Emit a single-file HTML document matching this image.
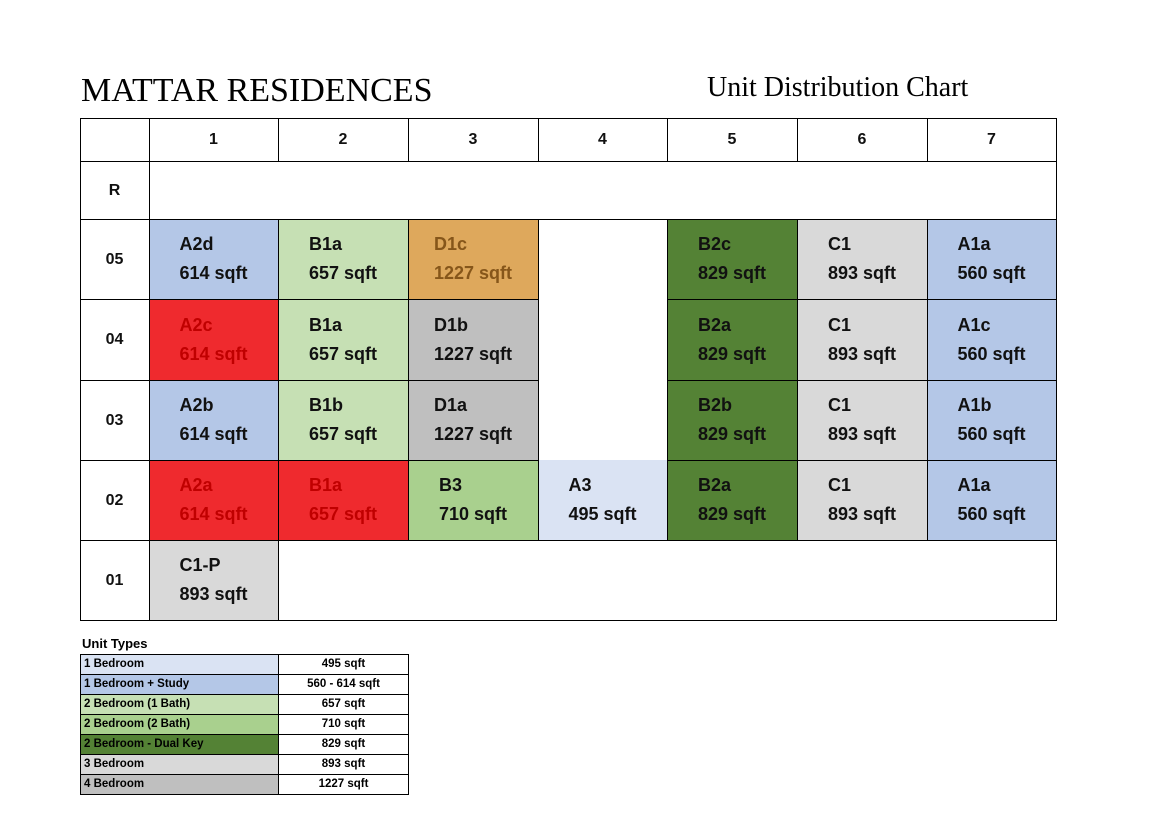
<!DOCTYPE html>
<html><head><meta charset="utf-8"><style>
body{margin:0;width:1154px;height:827px;background:#fff;position:relative;overflow:hidden;font-family:"Liberation Sans",sans-serif}
.t{position:absolute;font-family:"Liberation Serif",serif;color:#000}
.c{position:absolute;box-sizing:border-box;display:flex;flex-direction:column;align-items:center;justify-content:center;font-weight:bold;font-size:18px;line-height:29px;color:#111}
.ln{position:absolute;background:#000}
.lg{position:absolute;box-sizing:border-box;border:1px solid #000;font-size:11.5px;font-weight:bold;line-height:18px;height:21px}
</style></head><body>
<div class="t" style="left:81px;top:72px;font-size:34px">MATTAR RESIDENCES</div>
<div class="t" style="left:707px;top:72px;font-size:28px">Unit Distribution Chart</div>
<div id="grid"></div>
<div id="legend">
<div style="position:absolute;left:82px;top:636px;font-size:13px;font-weight:bold">Unit Types</div>
</div>
<script>
const colX=[80,149,278,408,538,667,797,927,1056];
const rowY=[118,161,219,299,380,460,540,620];
const colLabels=["1","2","3","4","5","6","7"];
const rowLabels=["R","05","04","03","02","01"];
const COL={lb:["#b4c7e7","#111"],lg:["#c6e0b4","#111"],or:["#dea85c","#86561a"],rd:["#ef2a2e","#c00000"],g1:["#d9d9d9","#111"],g2:["#bfbfbf","#111"],mg:["#a9d08e","#111"],dg:["#548235","#111"],vb:["#dae3f3","#111"]};
const units=[
[1,1,"A2d","614","lb"],[1,2,"B1a","657","lg"],[1,3,"D1c","1227","or"],[1,5,"B2c","829","dg"],[1,6,"C1","893","g1"],[1,7,"A1a","560","lb"],
[2,1,"A2c","614","rd"],[2,2,"B1a","657","lg"],[2,3,"D1b","1227","g2"],[2,5,"B2a","829","dg"],[2,6,"C1","893","g1"],[2,7,"A1c","560","lb"],
[3,1,"A2b","614","lb"],[3,2,"B1b","657","lg"],[3,3,"D1a","1227","g2"],[3,5,"B2b","829","dg"],[3,6,"C1","893","g1"],[3,7,"A1b","560","lb"],
[4,1,"A2a","614","rd"],[4,2,"B1a","657","rd"],[4,3,"B3","710","mg"],[4,4,"A3","495","vb"],[4,5,"B2a","829","dg"],[4,6,"C1","893","g1"],[4,7,"A1a","560","lb"],
[5,1,"C1-P","893","g1"]];
const legendNames=["1 Bedroom","1 Bedroom + Study","2 Bedroom (1 Bath)","2 Bedroom (2 Bath)","2 Bedroom - Dual Key","3 Bedroom","4 Bedroom"];
const legendSizes=["495 sqft","560 - 614 sqft","657 sqft","710 sqft","829 sqft","893 sqft","1227 sqft"];
const legendKeys=["vb","lb","lg","mg","dg","g1","g2"];
const g=document.getElementById('grid');
function cell(x,y,w,h,bg,fg,html){const d=document.createElement('div');d.className='c';d.style.cssText=`left:${x}px;top:${y}px;width:${w}px;height:${h}px;background:${bg};color:${fg}`;d.innerHTML=html;g.appendChild(d);return d;}
function line(x,y,w,h){const d=document.createElement('div');d.className='ln';d.style.cssText=`left:${x}px;top:${y}px;width:${w}px;height:${h}px`;


g.appendChild(d);}
units.forEach(u=>{const[r,c,n,s,k]=u;const x=colX[c],y=rowY[r+1];
const d=cell(x,y,colX[c+1]-x,rowY[r+2]-y,COL[k][0],COL[k][1],n+'<br>'+s+' sqft');

});
colLabels.forEach((l,i)=>{const d=cell(colX[i+1],rowY[0],colX[i+2]-colX[i+1],rowY[1]-rowY[0],'transparent','#111',l);d.style.fontSize='16px';

});
rowLabels.forEach((l,i)=>{const d=cell(colX[0],rowY[i+1],colX[1]-colX[0],rowY[i+2]-rowY[i+1],'transparent','#111',l);d.style.fontSize='16px';

});
// horizontal lines
line(colX[0],rowY[0],colX[8]-colX[0]+1,1);
line(colX[0],rowY[1],colX[8]-colX[0]+1,1);
line(colX[0],rowY[2],colX[8]-colX[0]+1,1);
for(let r=3;r<=6;r++){line(colX[0],rowY[r],colX[4]-colX[0]+1,1);line(colX[5],rowY[r],colX[8]-colX[5]+1,1);}
line(colX[3],rowY[6],colX[5]-colX[3],1);
line(colX[0],rowY[7],colX[8]-colX[0]+1,1);
// vertical lines
line(colX[0],rowY[0],1,rowY[7]-rowY[0]);line(colX[8],rowY[0],1,rowY[7]-rowY[0]+1);
line(colX[1],rowY[0],1,rowY[7]-rowY[0]);line(colX[2],rowY[0],1,rowY[1]-rowY[0]);
for(let c=2;c<=7;c++){line(colX[c],rowY[0],1,rowY[1]-rowY[0]);line(colX[c],rowY[2],1,rowY[6]-rowY[2]);}
line(colX[2],rowY[6],1,rowY[7]-rowY[6]);
const L=document.getElementById('legend');
legendNames.forEach((n,i)=>{const y=654+i*20;
const a=document.createElement('div');a.className='lg';a.style.cssText=`left:80px;top:${y}px;width:199px;background:${COL[legendKeys[i]][0]};padding-left:3px`;a.textContent=n;


L.appendChild(a);
const b=document.createElement('div');b.className='lg';b.style.cssText=`left:278px;top:${y}px;width:131px;text-align:center`;b.textContent=legendSizes[i];


L.appendChild(b);});
</script>
</body></html>
